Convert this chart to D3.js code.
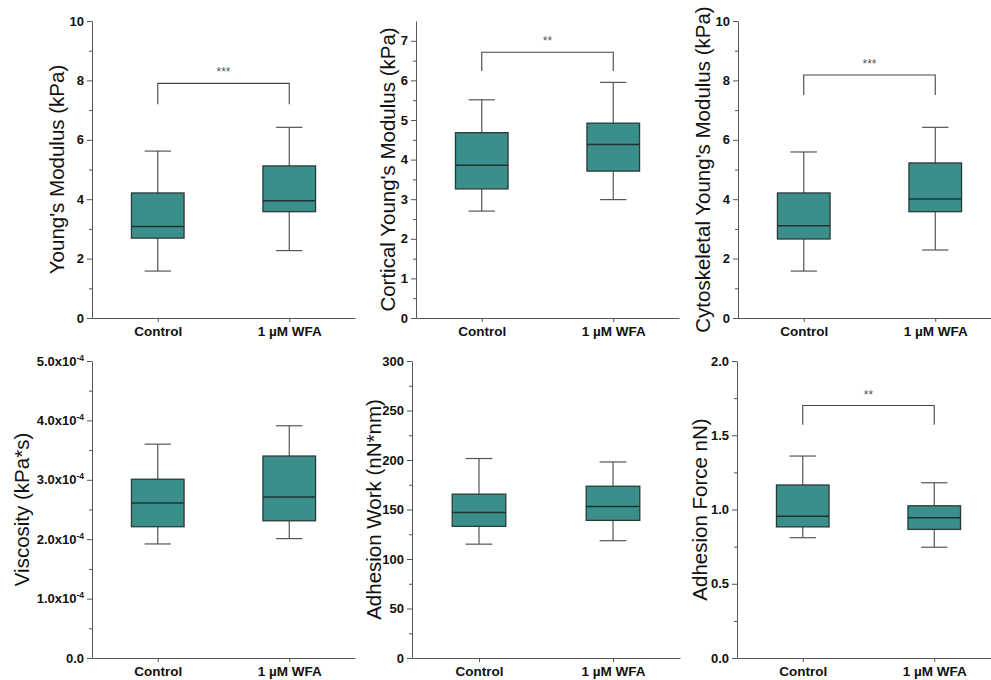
<!DOCTYPE html>
<html>
<head>
<meta charset="utf-8">
<script src="https://cdn.jsdelivr.net/npm/d3@7"></script>
<style>
  body { margin: 0; background: #fff; }
  svg { font-family: "Liberation Sans", Arial, sans-serif; }
  .tick text { font-weight: bold; font-size: 13px; fill: #111; }
  .xaxis .tick text { font-size: 13.5px; }
  .ytitle { font-size: 20.5px; fill: #111; }
</style>
</head>
<body>
<svg id="chart" width="991" height="680"></svg>
<script>
'use strict';

// Groups on every x axis
const categories = ['Control', '1 \u00b5M WFA'];

// Box stats per group: [lower whisker, Q1, median, Q3, upper whisker]
const youngControl = [1.58, 2.69, 3.08, 4.21, 5.62];
const youngWFA = [2.27, 3.58, 3.95, 5.12, 6.42];
const corticalControl = [2.70, 3.26, 3.86, 4.68, 5.51];
const corticalWFA = [2.99, 3.71, 4.38, 4.92, 5.95];
const cytoControl = [1.58, 2.66, 3.11, 4.21, 5.59];
const cytoWFA = [2.29, 3.58, 4.01, 5.22, 6.42];
const viscosityControl = [1.92e-4, 2.21e-4, 2.61e-4, 3.01e-4, 3.60e-4];
const viscosityWFA = [2.01e-4, 2.31e-4, 2.71e-4, 3.40e-4, 3.91e-4];
const workControl = [115, 133, 147, 165.5, 201.5];
const workWFA = [118.5, 139, 153, 173.5, 198];
const forceControl = [0.81, 0.883, 0.955, 1.165, 1.36];
const forceWFA = [0.746, 0.866, 0.944, 1.025, 1.18];

// Y axis ticks
const youngTicks = [0, 2, 4, 6, 8, 10];
const corticalTicks = [0, 1, 2, 3, 4, 5, 6, 7];
const viscosityTicks = [0, 1e-4, 2e-4, 3e-4, 4e-4, 5e-4];
const workTicks = [0, 50, 100, 150, 200, 250, 300];
const forceTicks = [0, 0.5, 1.0, 1.5, 2.0];

// Significance brackets: [bar level, foot level, label]
const youngSig = [7.9, 7.2, '***'];
const corticalSig = [6.71, 6.24, '**'];
const cytoSig = [8.18, 7.51, '***'];
const forceSig = [1.70, 1.57, '**'];

const sciFormat = v => {
  if (v === 0) return ['0.0', null];
  const exp = Math.floor(Math.log10(v));
  return [(v / Math.pow(10, exp)).toFixed(1) + 'x10', String(exp)];
};

const panels = [
  { left: 92, top: 21, width: 263, max: 10, ticks: youngTicks,
    title: "Young's Modulus (kPa)", titleX: 57, data: [youngControl, youngWFA], sig: youngSig },
  { left: 416, top: 21, width: 263, max: 7.5, ticks: corticalTicks,
    title: "Cortical Young's Modulus (kPa)", titleX: 388, data: [corticalControl, corticalWFA], sig: corticalSig },
  { left: 738, top: 21, width: 263, max: 10, ticks: youngTicks,
    title: "Cytoskeletal Young's Modulus (kPa)", titleX: 703, data: [cytoControl, cytoWFA], sig: cytoSig },
  { left: 92, top: 361, width: 263, max: 5e-4, ticks: viscosityTicks, sci: true,
    title: 'Viscosity (kPa*s)', titleX: 22, data: [viscosityControl, viscosityWFA] },
  { left: 412, top: 361, width: 268, max: 300, ticks: workTicks,
    title: 'Adhesion Work (nN*nm)', titleX: 374, data: [workControl, workWFA] },
  { left: 737, top: 361, width: 263, max: 2, ticks: forceTicks, fixed: 1,
    title: 'Adhesion Force nN)', titleX: 700, data: [forceControl, forceWFA], sig: forceSig }
];

const plotHeight = 297;
const svg = d3.select('#chart');

panels.forEach(p => {
  const g = svg.append('g').attr('transform', `translate(${p.left},${p.top})`);

  const x = d3.scalePoint().domain(categories).range([0, p.width]).padding(0.5);
  const y = d3.scaleLinear().domain([0, p.max]).range([plotHeight, 0]);

  // Minor ticks halfway between majors
  const minorTicks = [];
  for (let i = 0; i < p.ticks.length - 1; i++) {
    minorTicks.push((p.ticks[i] + p.ticks[i + 1]) / 2);
  }
  g.append('g')
    .call(d3.axisLeft(y).tickValues(minorTicks).tickSize(3).tickFormat(''))
    .call(a => a.select('.domain').remove())
    .selectAll('line').attr('stroke', '#555');

  const yAxis = g.append('g')
    .call(d3.axisLeft(y).tickValues(p.ticks).tickSize(5).tickSizeOuter(0).tickPadding(3)
      .tickFormat(p.fixed ? d3.format('.1f') : d3.format('d')));
  yAxis.select('.domain').attr('stroke', '#555');
  yAxis.selectAll('line').attr('stroke', '#555');

  if (p.sci) {
    yAxis.selectAll('.tick text').each(function(d) {
      const [base, exp] = sciFormat(d);
      const t = d3.select(this).text(null);
      t.append('tspan').text(base);
      if (exp) {
        t.append('tspan').attr('dy', '-5').attr('font-size', '8.5px').text(exp);
      }
    });
  }

  const xAxis = g.append('g')
    .attr('class', 'xaxis')
    .attr('transform', `translate(0,${plotHeight})`)
    .call(d3.axisBottom(x).tickSize(4).tickSizeOuter(0).tickPadding(4));
  xAxis.select('.domain').attr('stroke', '#555').attr('stroke-width', 1.2);
  xAxis.selectAll('line').attr('stroke', '#555');

  // Boxes
  const boxW = p.width * 0.2;
  const capW = boxW / 2;
  const boxes = g.selectAll('.box').data(p.data).enter().append('g')
    .attr('class', 'box')
    .attr('transform', (d, i) => `translate(${x(categories[i])},0)`);

  boxes.append('line')
    .attr('x1', 0).attr('x2', 0)
    .attr('y1', d => y(d[0])).attr('y2', d => y(d[4]))
    .attr('stroke', '#555').attr('stroke-width', 1.2);
  boxes.selectAll('.cap').data(d => [d[0], d[4]]).enter().append('line')
    .attr('x1', -capW / 2).attr('x2', capW / 2)
    .attr('y1', v => y(v)).attr('y2', v => y(v))
    .attr('stroke', '#555').attr('stroke-width', 1.2);
  boxes.append('rect')
    .attr('x', -boxW / 2).attr('width', boxW)
    .attr('y', d => y(d[3])).attr('height', d => y(d[1]) - y(d[3]))
    .attr('fill', '#3a8f8a').attr('stroke', '#2b3a3a').attr('stroke-width', 1.3);
  boxes.append('line')
    .attr('x1', -boxW / 2).attr('x2', boxW / 2)
    .attr('y1', d => y(d[2])).attr('y2', d => y(d[2]))
    .attr('stroke', '#1f3331').attr('stroke-width', 1.5);

  // Significance bracket
  if (p.sig) {
    const [bar, foot, label] = p.sig;
    const x0 = x(categories[0]);
    const x1 = x(categories[1]);
    g.append('path')
      .attr('d', `M${x0},${y(foot)}V${y(bar)}H${x1}V${y(foot)}`)
      .attr('fill', 'none').attr('stroke', '#444').attr('stroke-width', 1.1);
    g.append('text')
      .attr('x', (x0 + x1) / 2).attr('y', y(bar) - 7)
      .attr('text-anchor', 'middle')
      .attr('font-size', '12px').attr('fill', '#555')
      .text(label);
  }

  // Y title
  svg.append('text')
    .attr('class', 'ytitle')
    .attr('transform', `translate(${p.titleX},${p.top + plotHeight / 2}) rotate(-90)`)
    .attr('text-anchor', 'middle')
    .attr('dy', '0.35em')
    .text(p.title);
});
</script>
</body>
</html>
